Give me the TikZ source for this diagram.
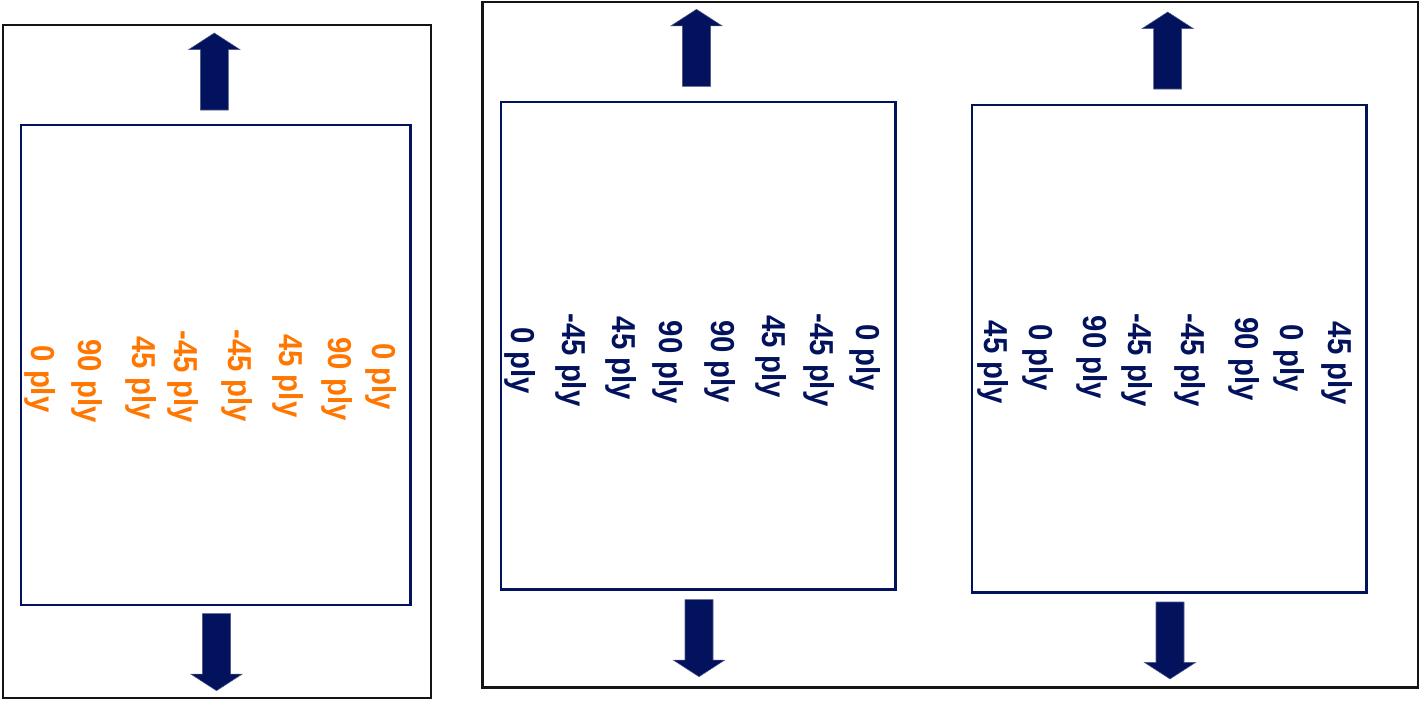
\documentclass[tikz,border=0pt]{standalone}
\usepackage{fontspec}
\setmainfont{Liberation Sans}
\definecolor{navy}{RGB}{3,18,92}
\definecolor{plyorange}{RGB}{255,118,0}
\definecolor{frame}{RGB}{20,20,20}
% ply labels are set slightly tall, as in the laminate sketches
\newcommand{\plytext}[1]{\scalebox{1}[1.13]{#1}}
\begin{document}
\begin{tikzpicture}[x=0.75pt,y=-0.75pt,
  outerbox/.style={draw=frame,line width=1.6pt,inner sep=0pt},
  specimen/.style={draw=navy,line width=1.8pt,inner sep=0pt},
  plylabel/.style={rotate=-90,inner sep=0pt,font=\fontsize{22}{26}\selectfont\bfseries},
  plyA/.style={plylabel,text=plyorange},
  plyB/.style={plylabel,text=navy},
  loadarrow/.pic={\fill[navy,draw=navy!70,line width=0.4pt]
     (0,0) -- (25.5,16.5) -- (14,16.5) -- (14,77) -- (-14,77) -- (-14,16.5) -- (-25.5,16.5) -- cycle;}]
\useasboundingbox (0,0) rectangle (1421,701);

% frames
\node[outerbox,minimum width=321pt,minimum height=504.75pt] (fA) at (217,361.5) {};
\node[outerbox,minimum width=701.6pt,minimum height=514.1pt] (fB) at (950.25,344.75) {};

% specimens
\node[specimen,minimum width=292.1pt,minimum height=360pt] (sA) at (215.75,365) {};
\node[specimen,minimum width=295.9pt,minimum height=365.6pt] (sB) at (698.25,345.75) {};
\node[specimen,minimum width=295.9pt,minimum height=365.6pt] (sC) at (1169.25,348.75) {};

% tension arrows
\pic at (214.3,33) {loadarrow};
\pic[rotate=180] at (216.5,690.7) {loadarrow};
\pic at (696.5,9.3) {loadarrow};
\pic[rotate=180] at (699,676.7) {loadarrow};
\pic at (1167.7,12) {loadarrow};
\pic[rotate=180] at (1170,679) {loadarrow};

% laminate 1
\node[plyA] (a1) at (39.7,379) {\plytext{0 ply}};
\node[plyA] (a2) at (87.5,381) {\plytext{90 ply}};
\node[plyA] (a3) at (140.7,378) {\plytext{45 ply}};
\node[plyA] (a4) at (183.3,376.7) {\plytext{-45 ply}};
\node[plyA] (a5) at (236.7,375.8) {\plytext{-45 ply}};
\node[plyA] (a6) at (288.3,375.8) {\plytext{45 ply}};
\node[plyA] (a7) at (337.3,379) {\plytext{90 ply}};
\node[plyA] (a8) at (380.7,376.7) {\plytext{0 ply}};

% laminate 2
\node[plyB] (b1) at (520,360.8) {\plytext{0 ply}};
\node[plyB] (b2) at (570.8,360) {\plytext{-45 ply}};
\node[plyB] (b3) at (620.8,358.3) {\plytext{45 ply}};
\node[plyB] (b4) at (668.3,362.5) {\plytext{90 ply}};
\node[plyB] (b5) at (720,361.7) {\plytext{90 ply}};
\node[plyB] (b6) at (770.8,356.7) {\plytext{45 ply}};
\node[plyB] (b7) at (819.2,360) {\plytext{-45 ply}};
\node[plyB] (b8) at (865,357.5) {\plytext{0 ply}};

% laminate 3
\node[plyB] (c1) at (993.3,362.5) {\plytext{45 ply}};
\node[plyB] (c2) at (1038.3,357.5) {\plytext{0 ply}};
\node[plyB] (c3) at (1091.7,357.5) {\plytext{90 ply}};
\node[plyB] (c4) at (1136.7,360) {\plytext{-45 ply}};
\node[plyB] (c5) at (1190,360) {\plytext{-45 ply}};
\node[plyB] (c6) at (1244.2,359.2) {\plytext{90 ply}};
\node[plyB] (c7) at (1289.2,358.3) {\plytext{0 ply}};
\node[plyB] (c8) at (1336.7,363.3) {\plytext{45 ply}};
\end{tikzpicture}
\end{document}
